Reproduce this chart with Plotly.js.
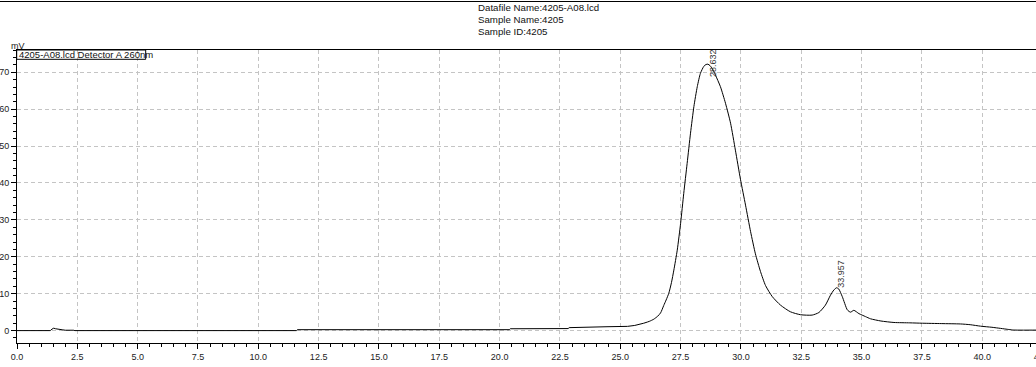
<!DOCTYPE html>
<html>
<head>
<meta charset="utf-8">
<script src="https://cdn.plot.ly/plotly-3.0.1.min.js"></script>
<style>
html,body{margin:0;padding:0;overflow:hidden;background:#fff;}
#chart{width:1056px;height:367px;}
</style>
</head>
<body>
<div id="chart"></div>
<script>
// ---- data ----
const headerLines = ["Datafile Name:4205-A08.lcd", "Sample Name:4205", "Sample ID:4205"];
const traceLabel = "4205-A08.lcd Detector A 260nm";
const yUnit = "mV";
const timeMin = [0, 1.38, 1.45, 1.52, 1.6, 1.73, 1.9, 2.0, 2.2, 2.28, 2.34, 2.4,
  11.58, 11.62, 20.4, 20.44, 22.84, 22.88, 24.4, 24.45, 25.3, 25.6, 25.97, 26.2,
  26.39, 26.55, 26.67, 26.8, 26.9, 27.01, 27.12, 27.22, 27.36, 27.5, 27.63, 27.77,
  27.91, 28.05, 28.19, 28.32, 28.46, 28.55, 28.63, 28.72, 28.82, 28.94, 29.15, 29.36,
  29.57, 29.77, 29.98, 30.19, 30.4, 30.6, 30.81, 31.02, 31.3, 31.64, 32.05, 32.47,
  32.95, 33.23, 33.5, 33.71, 33.85, 33.96, 34.05, 34.2, 34.41, 34.54, 34.68, 34.89,
  35.16, 35.37, 35.8, 36.34, 37.0, 37.52, 38.3, 39.1, 39.5, 39.93, 40.4, 40.76,
  41.1, 41.31, 42.6];
const signalMv = [0, 0, 0.4, 0.65, 0.5, 0.3, 0.2, 0.1, 0.1, 0.25, 0.1, 0,
  0, 0.25, 0.25, 0.5, 0.55, 0.8, 0.85, 1.05, 1.15, 1.4, 2.0, 2.5,
  3.1, 3.9, 4.8, 6.8, 8.3, 10.1, 13.0, 16.4, 21.8, 29.1, 37.2, 45.3,
  53.5, 60.7, 66.1, 69.7, 71.6, 72.1, 72.2, 71.8, 70.9, 69.3, 66.1, 61.6,
  56.2, 48.9, 41.0, 34.0, 26.8, 20.8, 16.0, 12.2, 9.2, 6.9, 5.1, 4.3,
  4.2, 4.9, 6.9, 9.6, 11.0, 11.6, 11.3, 9.2, 5.6, 5.0, 5.5, 4.6,
  3.8, 3.2, 2.6, 2.2, 2.1, 2.0, 1.9, 1.8, 1.6, 1.2, 0.9, 0.6,
  0.3, 0.15, 0.15];
const peakTimes = [28.632, 33.957];
const peakHeights = [72.2, 11.6];
const peakLabels = ["28.632", "33.957"];

// ---- layout geometry ----
const W = 1056, H = 367;
const M = {l: 17, r: 11, t: 50, b: 24};
const plotW = W - M.l - M.r, plotH = H - M.t - M.b;
const px2x = p => (p - M.l) / plotW;
const px2y = p => (H - M.b - p) / plotH;
const font = "Liberation Sans, Arial, sans-serif";

const annotations = [];
headerLines.forEach((t, i) => {
  annotations.push({text: t, xref: "paper", yref: "paper", x: px2x(476), y: px2y(7.5 + i * 11.8),
    xanchor: "left", yanchor: "middle", showarrow: false,
    font: {family: font, size: 9.7, color: "#111"}});
});
annotations.push({text: yUnit, xref: "paper", yref: "paper", x: px2x(9), y: px2y(45.5),
  xanchor: "left", yanchor: "middle", showarrow: false, font: {family: font, size: 9, color: "#222"}});
annotations.push({text: traceLabel, xref: "paper", yref: "paper", x: px2x(16.5), y: px2y(54.5),
  xanchor: "left", yanchor: "middle", showarrow: false, font: {family: font, size: 9.5, color: "#111"}});
const labelYShift = [1, 14.5];
peakTimes.forEach((t, i) => {
  annotations.push({text: peakLabels[i], x: t, y: peakHeights[i], xref: "x", yref: "y",
    xshift: 5, yshift: labelYShift[i], textangle: -90, showarrow: false,
    xanchor: "center", yanchor: "middle", font: {family: font, size: 9, color: "#333"}});
});

const shapes = [
  {type: "line", xref: "paper", yref: "paper", x0: px2x(-5), x1: px2x(1070), y0: px2y(1.5), y1: px2y(1.5),
    line: {color: "#000", width: 1.2}},
  {type: "rect", xref: "paper", yref: "paper", x0: px2x(16.7), x1: px2x(145.7), y0: px2y(59.3), y1: 1,
    line: {color: "#000", width: 1}, fillcolor: "rgba(0,0,0,0)"}
];

// baseline part drawn straight, peak part smoothed (same arrays, split at 26 min)
const split = timeMin.findIndex(t => t >= 25.97);
const data = [
  {x: timeMin.slice(0, split + 1), y: signalMv.slice(0, split + 1), type: "scatter", mode: "lines",
    line: {color: "#000", width: 1}, hoverinfo: "skip"},
  {x: timeMin.slice(split), y: signalMv.slice(split), type: "scatter", mode: "lines",
    line: {color: "#000", width: 1, shape: "spline", smoothing: 0.6}, hoverinfo: "skip"}
];

const layout = {
  width: W, height: H,
  margin: M,
  paper_bgcolor: "#fff", plot_bgcolor: "#fff",
  showlegend: false,
  font: {family: font, size: 9, color: "#222"},
  xaxis: {
    range: [0, 42.6], tick0: 0, dtick: 2.5, tickformat: ".1f",
    showline: true, linecolor: "#000", linewidth: 1, mirror: true,
    ticks: "outside", ticklen: 5, tickcolor: "#000", tickwidth: 1,
    showgrid: true, gridcolor: "#c4c4c4", gridwidth: 1, griddash: "4px,3px",
    zeroline: false,
    minor: {dtick: 0.5, tick0: 0, ticks: "outside", ticklen: 3, tickcolor: "#000", showgrid: false},
    tickfont: {family: font, size: 9, color: "#222"}
  },
  yaxis: {
    range: [-3.36, 76.04], tick0: 0, dtick: 10,
    showline: true, linecolor: "#000", linewidth: 1, mirror: true,
    ticks: "outside", ticklen: 5, tickcolor: "#000", tickwidth: 1,
    showgrid: true, gridcolor: "#c4c4c4", gridwidth: 1, griddash: "4px,3px",
    zeroline: false,
    minor: {dtick: 2, tick0: 0, ticks: "outside", ticklen: 3, tickcolor: "#000", showgrid: false},
    tickfont: {family: font, size: 9, color: "#222"}
  },
  annotations: annotations,
  shapes: shapes
};

Plotly.newPlot("chart", data, layout, {displayModeBar: false, staticPlot: true});
</script>
</body>
</html>
